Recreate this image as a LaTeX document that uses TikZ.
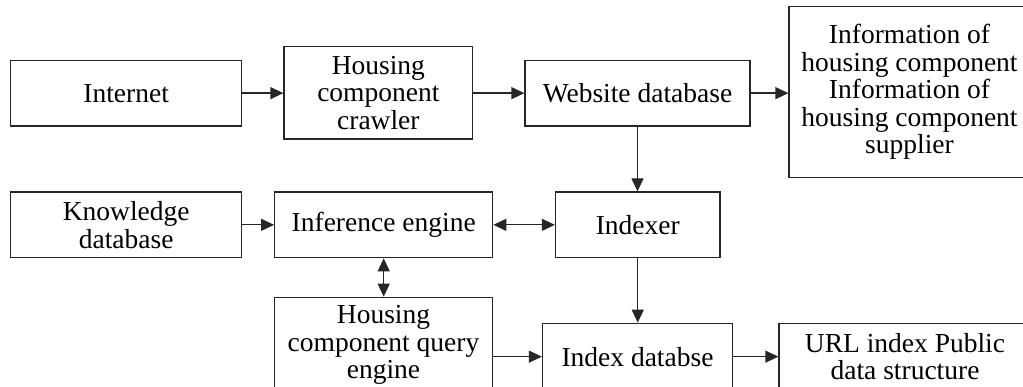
\documentclass[tikz,border=0pt]{standalone}
\usepackage{fontspec}
\setmainfont{Liberation Serif}
\usetikzlibrary{arrows.meta,calc}
\begin{document}
\begin{tikzpicture}[x=1pt,y=-1pt,
  box/.style={draw=black!85, line width=1.3pt, rectangle, inner sep=0pt,
    align=center, font=\fontsize{27.5}{27.5}\selectfont},
  link/.style={draw=black!85, line width=1.3pt, -{Triangle[length=13pt,width=12pt]}},
  both/.style={draw=black!85, line width=1.3pt,
    {Triangle[length=13pt,width=12pt]}-{Triangle[length=13pt,width=12pt]}}]
\useasboundingbox (0,0) rectangle (1023,387);
\clip (0,0) rectangle (1023,387);

% first row: crawling
\node[box, minimum width=231, minimum height=65.7] (inet) at (126.2,93.15) {Internet};
\node[box, minimum width=188.7, minimum height=92.3] (crawl) at (378.35,92.85) {Housing\\component\\crawler};
\node[box, minimum width=225, minimum height=65.7] (web) at (637.5,93.15) {Website database};
\node[box, minimum width=241, minimum height=171] (info) at (909.5,92.2)
  {Information of\\housing component\\Information of\\housing component\\supplier};

% second row: inference and indexing
\node[box, minimum width=231, minimum height=65.7] (know) at (126.2,224.85) {Knowledge\\database};
\node[box, minimum width=218, minimum height=65.7] (infer) at (383.7,224.85) {Inference engine};
\node[box, minimum width=164.5, minimum height=65.7] (indexer) at (637.75,224.85) {Indexer};

% third row: query and storage
\node[box, minimum width=217.6, minimum height=95.4] (query) at (383.5,345) {Housing\\component query\\engine};
\node[box, minimum width=190, minimum height=66.7] (idx) at (637.5,356.65) {Index databse};
\node[box, minimum width=252, minimum height=66.7] (url) at (905,356.65) {URL index Public\\data structure};

% connectors
\draw[link] (inet.east) -- (inet.east -| crawl.west);
\draw[link] (web.west -| crawl.east) -- (web.west);
\draw[link] (web.east) -- (web.east -| info.west);
\draw[link] (web.south) -- (web.south |- indexer.north);
\draw[link] (know.east) -- (infer.west);
\draw[both] (infer.east) -- (indexer.west);
\draw[both] (infer.south) -- (infer.south |- query.north);
\draw[link] (indexer.south) -- (indexer.south |- idx.north);
\draw[link] (query.east |- idx.west) -- (idx.west);
\draw[link] (idx.east) -- (idx.east -| url.west);
\end{tikzpicture}
\end{document}
